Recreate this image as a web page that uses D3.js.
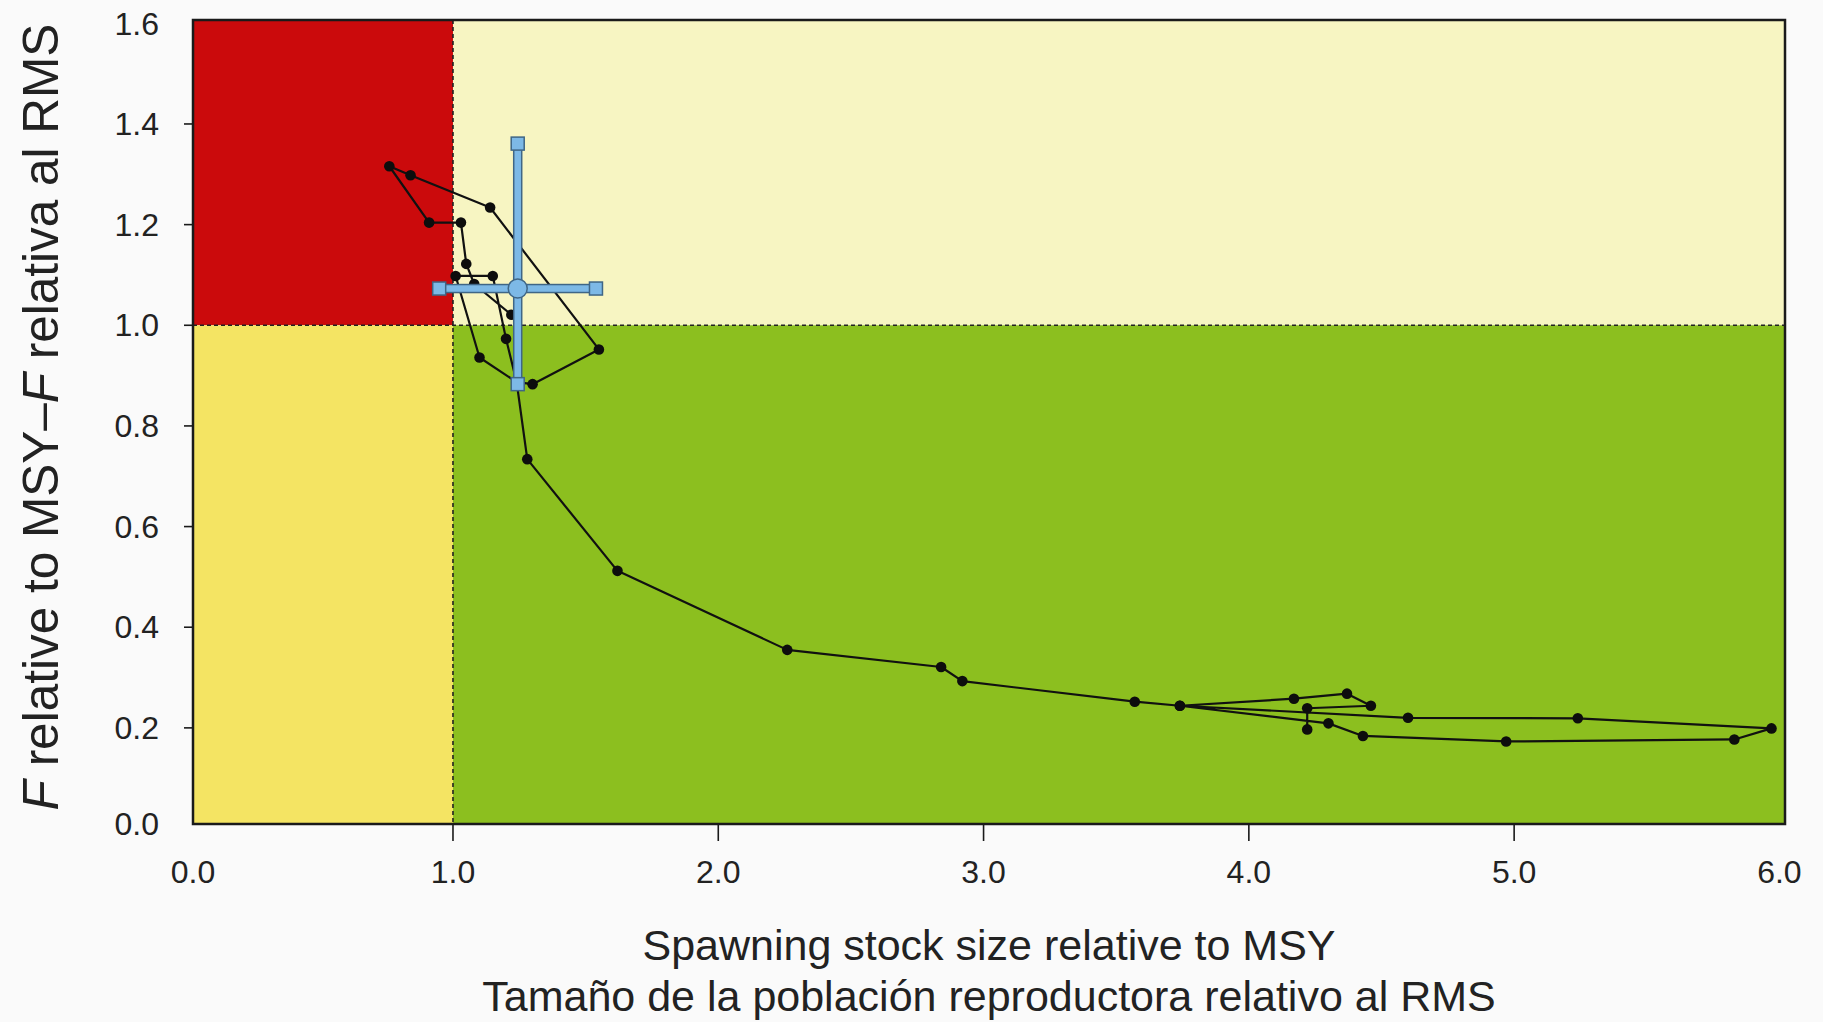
<!DOCTYPE html>
<html>
<head>
<meta charset="utf-8">
<script src="https://cdn.jsdelivr.net/npm/d3@7"></script>
<style>
  html, body { margin: 0; padding: 0; background: #fafafa; }
  svg { display: block; font-family: "Liberation Sans", Arial, sans-serif; }
</style>
</head>
<body>
<svg id="chart" width="1823" height="1022"></svg>
<script>
// trajectory: spawning stock / SSB_MSY and F / F_MSY, in time order
const stockRatio = [4.22, 4.22, 4.46, 4.37, 4.17, 3.74, 4.60, 5.24, 5.97, 5.83, 4.97, 4.43, 4.30, 3.74,
    3.57, 2.92, 2.84, 2.26, 1.62, 1.28, 1.24, 1.10, 1.01, 1.15, 1.20, 1.24, 1.30, 1.55, 1.14, 0.84,
    0.76, 0.91, 1.03, 1.05, 1.08, 1.22];
const fRatio = [0.197, 0.239, 0.244, 0.268, 0.258, 0.244, 0.220, 0.219, 0.199, 0.177, 0.173, 0.184, 0.209, 0.244,
    0.252, 0.293, 0.321, 0.355, 0.512, 0.734, 0.887, 0.936, 1.098, 1.098, 0.973, 0.887, 0.883, 0.952, 1.234, 1.298,
    1.316, 1.204, 1.204, 1.122, 1.082, 1.021];

// current estimate with its confidence bounds
const estStock = 1.244, estF = 1.073;
const stockCI = [0.948, 1.539];
const fCI = [0.883, 1.361];

const xTicks = [1, 2, 3, 4, 5];
const xLabels = [0, 1, 2, 3, 4, 5, 6];
const yTicks = [0.2, 0.4, 0.6, 0.8, 1.0, 1.2, 1.4];
const yLabels = [0, 0.2, 0.4, 0.6, 0.8, 1.0, 1.2, 1.4, 1.6];

const margin = {top: 20, right: 38, bottom: 198, left: 193};
const W = 1823, H = 1022;
const width = W - margin.left - margin.right;
const height = H - margin.top - margin.bottom;

const svg = d3.select('#chart');
const g = svg.append('g').attr('transform', `translate(${margin.left},${margin.top})`);

// the frame sits a little inside the 0..6 / 0..1.6 range, as in the original
const x = d3.scaleLinear().domain([0.02, 6.021]).range([0, width]);
const y = d3.scaleLinear().domain([0.009, 1.6066]).range([height, 0]);
const [xMin, xMax] = x.domain();
const [yMin, yMax] = y.domain();
const clampX = v => Math.max(0, Math.min(width, x(v)));
const clampY = v => Math.max(0, Math.min(height, y(v)));

// quadrants
const zones = [
    {x0: xMin, x1: 1, y0: 1, y1: yMax, fill: '#cb0a0c'},
    {x0: 1, x1: xMax, y0: 1, y1: yMax, fill: '#f7f5c2'},
    {x0: xMin, x1: 1, y0: yMin, y1: 1, fill: '#f4e463'},
    {x0: 1, x1: xMax, y0: yMin, y1: 1, fill: '#8cbf1f'}
];
g.selectAll('rect.zone')
    .data(zones)
    .enter()
    .append('rect')
    .attr('class', 'zone')
    .attr('x', d => x(d.x0))
    .attr('y', d => y(d.y1))
    .attr('width', d => x(d.x1) - x(d.x0))
    .attr('height', d => y(d.y0) - y(d.y1))
    .attr('fill', d => d.fill);

// reference lines at 1
g.append('line')
    .attr('x1', x(1)).attr('x2', x(1))
    .attr('y1', 0).attr('y2', height)
    .attr('stroke', '#222').attr('stroke-width', 1.6).attr('stroke-dasharray', '4,3');
g.append('line')
    .attr('x1', 0).attr('x2', width)
    .attr('y1', y(1)).attr('y2', y(1))
    .attr('stroke', '#222').attr('stroke-width', 1.6).attr('stroke-dasharray', '4,3');

// frame
g.append('rect')
    .attr('x', 0).attr('y', 0)
    .attr('width', width).attr('height', height)
    .attr('fill', 'none')
    .attr('stroke', '#1a1a1a')
    .attr('stroke-width', 2.5);

// ticks
g.selectAll('line.xtick')
    .data(xTicks)
    .enter()
    .append('line')
    .attr('class', 'xtick')
    .attr('x1', d => x(d)).attr('x2', d => x(d))
    .attr('y1', height).attr('y2', height + 17)
    .attr('stroke', '#1a1a1a').attr('stroke-width', 1.6);

g.selectAll('line.ytick')
    .data(yTicks)
    .enter()
    .append('line')
    .attr('class', 'ytick')
    .attr('x1', -9).attr('x2', 0)
    .attr('y1', d => y(d)).attr('y2', d => y(d))
    .attr('stroke', '#1a1a1a').attr('stroke-width', 1.6);

g.selectAll('text.xlab')
    .data(xLabels)
    .enter()
    .append('text')
    .attr('class', 'xlab')
    .attr('x', d => clampX(d))
    .attr('y', height + 48)
    .attr('dy', '0.35em')
    .attr('text-anchor', 'middle')
    .attr('font-size', '32px')
    .attr('fill', '#222')
    .text(d => d3.format('.1f')(d));

g.selectAll('text.ylab')
    .data(yLabels)
    .enter()
    .append('text')
    .attr('class', 'ylab')
    .attr('x', -34)
    .attr('y', d => clampY(d))
    .attr('dy', '0.35em')
    .attr('text-anchor', 'end')
    .attr('font-size', '32px')
    .attr('fill', '#222')
    .text(d => d3.format('.1f')(d));

// axis titles
svg.append('text')
    .attr('x', 989).attr('y', 945)
    .attr('dy', '0.35em')
    .attr('text-anchor', 'middle')
    .attr('font-size', '43px')
    .attr('fill', '#222')
    .text('Spawning stock size relative to MSY');

svg.append('text')
    .attr('x', 989).attr('y', 996)
    .attr('dy', '0.35em')
    .attr('text-anchor', 'middle')
    .attr('font-size', '43px')
    .attr('fill', '#222')
    .text('Tamaño de la población reproductora relativo al RMS');

const yTitle = svg.append('text')
    .attr('transform', 'translate(41,417) rotate(-90)')
    .attr('dy', '0.35em')
    .attr('text-anchor', 'middle')
    .attr('font-size', '49.5px')
    .attr('fill', '#222');
yTitle.append('tspan').attr('font-style', 'italic').text('F');
yTitle.append('tspan').text(' relative to MSY–');
yTitle.append('tspan').attr('font-style', 'italic').text('F');
yTitle.append('tspan').text(' relativa al RMS');

// trajectory
const pts = stockRatio.map((s, i) => ({s: s, f: fRatio[i]}));
const line = d3.line().x(d => x(d.s)).y(d => y(d.f));

g.append('path')
    .datum(pts)
    .attr('d', line)
    .attr('fill', 'none')
    .attr('stroke', '#111')
    .attr('stroke-width', 2.2)
    .attr('stroke-linejoin', 'round');

g.selectAll('circle.pt')
    .data(pts)
    .enter()
    .append('circle')
    .attr('class', 'pt')
    .attr('cx', d => x(d.s))
    .attr('cy', d => y(d.f))
    .attr('r', 5.3)
    .attr('fill', '#0d0d0d');

// current estimate with error bars
const blue = '#7db9e6', blueEdge = '#3f6686';
const bar = 8, sq = 13;
const cross = g.append('g').attr('class', 'cross');

cross.append('rect')
    .attr('x', x(estStock) - bar / 2)
    .attr('y', y(fCI[1]))
    .attr('width', bar)
    .attr('height', y(fCI[0]) - y(fCI[1]))
    .attr('fill', blue).attr('stroke', blueEdge).attr('stroke-width', 1.5);

cross.append('rect')
    .attr('x', x(stockCI[0]))
    .attr('y', y(estF) - bar / 2)
    .attr('width', x(stockCI[1]) - x(stockCI[0]))
    .attr('height', bar)
    .attr('fill', blue).attr('stroke', blueEdge).attr('stroke-width', 1.5);

const ends = [
    {s: estStock, f: fCI[0]}, {s: estStock, f: fCI[1]},
    {s: stockCI[0], f: estF}, {s: stockCI[1], f: estF}
];
cross.selectAll('rect.end')
    .data(ends)
    .enter()
    .append('rect')
    .attr('class', 'end')
    .attr('x', d => x(d.s) - sq / 2)
    .attr('y', d => y(d.f) - sq / 2)
    .attr('width', sq).attr('height', sq)
    .attr('fill', blue).attr('stroke', blueEdge).attr('stroke-width', 1.5);

cross.append('circle')
    .attr('cx', x(estStock))
    .attr('cy', y(estF))
    .attr('r', 9.5)
    .attr('fill', blue).attr('stroke', blueEdge).attr('stroke-width', 1.5);
</script>
</body>
</html>
